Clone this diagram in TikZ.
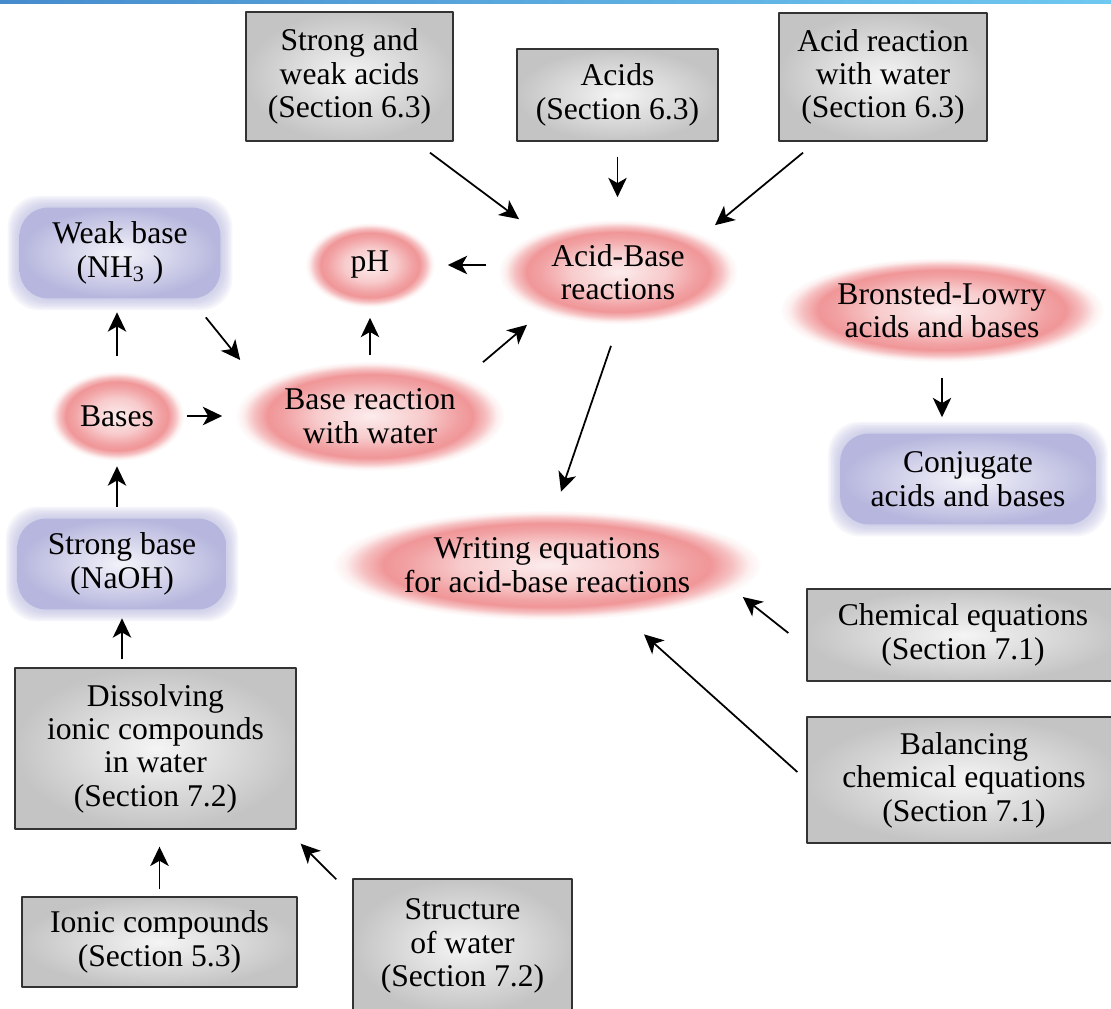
\documentclass[tikz,border=0pt]{standalone}
\usepackage{fontspec}
\setmainfont{Liberation Serif}
\usetikzlibrary{shapes.geometric,arrows.meta,backgrounds}
\definecolor{glowred}{RGB}{240,150,152}
\definecolor{glowblue}{RGB}{178,178,220}
\definecolor{topblue}{RGB}{70,140,205}
\definecolor{topcyan}{RGB}{110,200,240}
\pgfdeclareradialshading{redglow}{\pgfpointorigin}{color(0bp)=(glowred!18);color(10bp)=(glowred!50);color(16bp)=(glowred!88);color(19bp)=(glowred);color(21.5bp)=(glowred!60);color(23.5bp)=(glowred!15);color(25bp)=(white);color(50bp)=(white)}
\tikzset{
	graybox/.style={draw=black!80, line width=0.8pt, inner color=black!4, outer color=black!23, align=center},
	glowell/.style={ellipse, shading=redglow, inner sep=0pt, align=center},
	glowrect/.style={align=center, inner sep=0pt},
}
\begin{document}
\begin{tikzpicture}[x=0.02cm, y=-0.02cm, >={Stealth[length=11pt,width=10.5pt,inset=3pt]}, font=\fontsize{18}{19}\selectfont, line join=round]
	\useasboundingbox (0,0) rectangle (1111,1008);
	\clip (0,0) rectangle (1111,1008);
	\shade[left color=topblue, right color=topcyan] (0,0) rectangle (1111,3);
	
	\node[graybox, minimum width=4.14cm, minimum height=2.58cm] (swa) at (349.5,76.5) {Strong and\\weak acids\\(Section 6.3)};
	\node[graybox, minimum width=4.02cm, minimum height=1.84cm] (acids) at (617.5,95) {Acids\\(Section 6.3)};
	\node[graybox, minimum width=4.16cm, minimum height=2.56cm] (arw) at (883,77) {Acid reaction\\ with water\\(Section 6.3)};
	\node[graybox, minimum width=5.62cm, minimum height=3.22cm] (diss) at (155.5,748.5) {Dissolving\\ionic compounds\\in water\\(Section 7.2)};
	\node[graybox, minimum width=5.5cm, minimum height=1.8cm] (ionic) at (159.5,942) {Ionic compounds\\(Section 5.3)};
	\node[graybox, minimum width=4.38cm, minimum height=2.68cm] (sw) at (462.5,946) {Structure\\of water\\(Section 7.2)};
	\node[graybox, minimum width=6.24cm, minimum height=1.84cm] (ce) at (963,635) {Chemical equations\\(Section 7.1)};
	\node[graybox, minimum width=6.28cm, minimum height=2.52cm] (bce) at (964,780) {Balancing\\chemical equations\\(Section 7.1)};
	
	\node[glowell, minimum width=2.6cm, minimum height=1.7cm] (ph) at (370,265) {pH};
	\node[glowell, minimum width=4.8cm, minimum height=2.1cm] (ab) at (618,272) {Acid-Base\\reactions};
	\node[glowell, minimum width=5.4cm, minimum height=2.2cm] (br) at (370,416) {Base reaction\\with water};
	\node[glowell, minimum width=2.7cm, minimum height=1.8cm] (bases) at (117,416) {Bases};
	\node[glowell, minimum width=6.5cm, minimum height=2.1cm] (bl) at (942,310) {Bronsted-Lowry\\acids and bases};
	\node[glowell, minimum width=8.6cm, minimum height=2.2cm] (we) at (547,565) {Writing equations\\for acid-base reactions};
	
	\node[glowrect, minimum width=4.0cm, minimum height=1.8cm] (wb) at (120,253) {Weak base\\(NH\textsubscript{3} )};
	\node[glowrect, minimum width=4.16cm, minimum height=1.8cm] (sb) at (122,564) {Strong base\\(NaOH)};
	\node[glowrect, minimum width=5.1cm, minimum height=1.8cm] (cab) at (968,479) {Conjugate\\acids and bases};
	
	\begin{scope}[on background layer]
		\foreach \n in {wb,sb,cab}{
			\foreach \d in {1.5,3,...,12}
				\fill[glowblue, fill opacity=0.11, rounded corners=18pt] ([shift={(-\d,-\d)}]\n.north west) rectangle ([shift={(\d,\d)}]\n.south east);
			\shade[inner color=glowblue!15, outer color=glowblue!95, rounded corners=16pt] (\n.north west) rectangle (\n.south east);
		}
	\end{scope}
	
	\draw[->, line width=1pt] ([shift={(80.5,11)}]swa.south) -- ([shift={(-99,0)}]ab.north);
	\draw[->, line width=1pt, shorten <=0.3cm, shorten >=0.44cm] (acids.south) -- (acids.south |- ab.north);
	\draw[->, line width=1pt] ([shift={(-80,11)}]arw.south) -- ([shift={(97,6)}]ab.north);
	\draw[->, line width=1pt, shorten <=0.23cm, shorten >=0.25cm] (ph.east -| ab.west) -- (ph.east);
	\draw[->, line width=1pt] ([shift={(-7,21)}]ab.south) -- ([shift={(14,-18)}]we.north);
	\draw[->, line width=1pt] ([shift={(113,1.5)}]br.north) -- ([shift={(-91,0)}]ab.south);
	\draw[->, line width=1pt, shorten <=0.11cm, shorten >=0.2cm] (br.north) -- (ph.south);
	\draw[->, line width=1pt, shorten <=0.04cm, shorten >=0.25cm] (bases.east) -- (bases.east -| br.west);
	\draw[->, line width=1pt] ([shift={(-14.5,19)}]wb.south east) -- ([shift={(5.5,-56)}]br.west);
	\draw[->, line width=1pt, shorten <=0.3cm, shorten >=0.28cm] (bases.north) -- (bases.north |- wb.south);
	\draw[->, line width=1pt, shorten <=0.24cm, shorten >=0.1cm] (bases.south |- sb.north) -- (bases.south);
	\draw[->, line width=1pt, shorten <=0.16cm, shorten >=0.18cm] (sb.south |- diss.north) -- (sb.south);
	\draw[->, line width=1pt, shorten <=0.14cm, shorten >=0.34cm] (ionic.north) -- (ionic.north |- diss.south);
	\draw[->, line width=1pt] ([shift={(-16,1)}]sw.north west) -- ([shift={(4,14)}]diss.south east);
	\draw[->, line width=1pt] ([shift={(-18,-2)}]ce.west) -- ([shift={(-19.5,32)}]we.east);
	\draw[->, line width=1pt] ([shift={(-9,-8)}]bce.west) -- ([shift={(97,14)}]we.south);
	\draw[->, line width=1pt, shorten <=0.3cm, shorten >=0.33cm] (bl.south) -- (bl.south |- cab.north);
\end{tikzpicture}
\end{document}
